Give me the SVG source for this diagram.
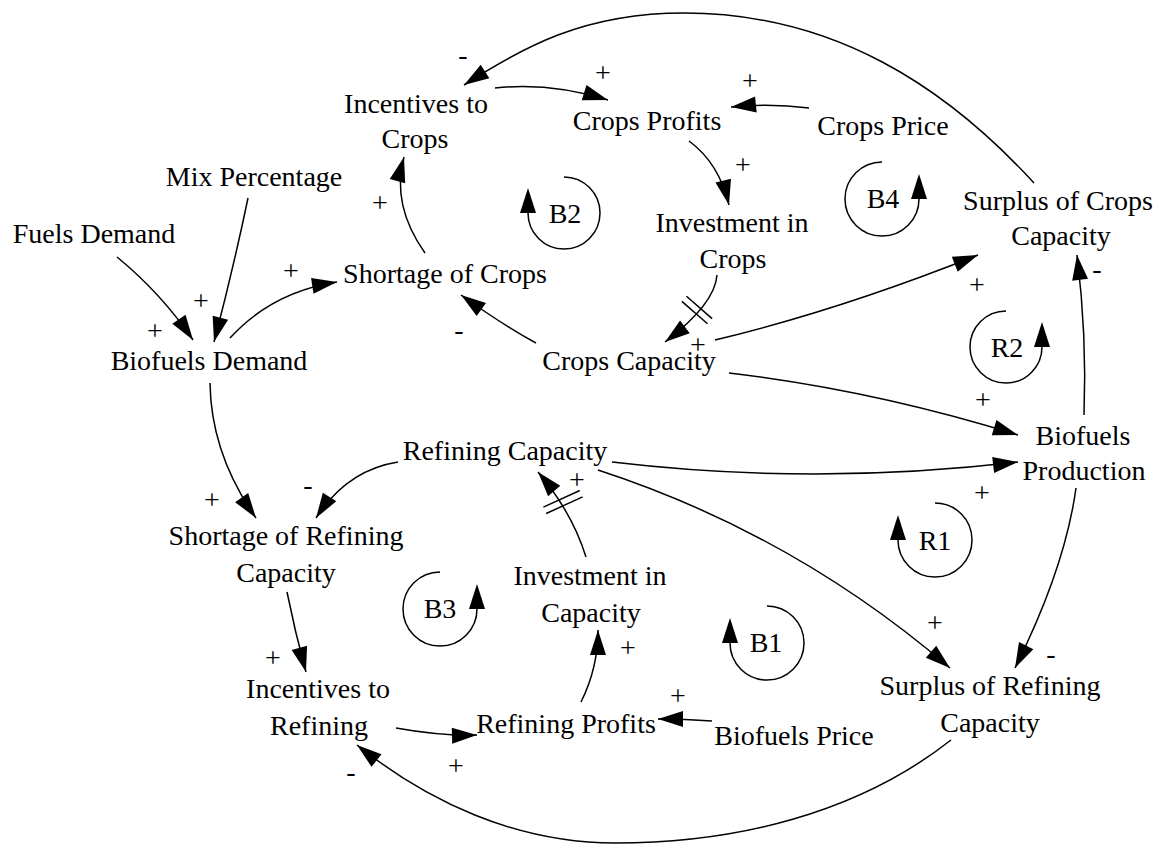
<svg xmlns="http://www.w3.org/2000/svg" width="1162" height="844" viewBox="0 0 1162 844">
<style>
text { font-family: "Liberation Serif", "Times New Roman", serif; font-size: 28px; fill: #000; text-anchor: middle; }
.c { fill: none; stroke: #000; stroke-width: 1.5; marker-end: url(#ah); }
.loop { fill: none; stroke: #000; stroke-width: 1.5; marker-end: url(#lh); }
.hash { stroke: #000; stroke-width: 1.5; }
</style>
<defs>
<marker id="ah" markerUnits="userSpaceOnUse" markerWidth="26" markerHeight="16" refX="25" refY="8" orient="auto" overflow="visible">
<path d="M0,0 L25,8 L0,16 z" fill="#000"/>
</marker>
<marker id="lh" markerUnits="userSpaceOnUse" markerWidth="26" markerHeight="16" refX="0" refY="8" orient="auto" overflow="visible">
<path d="M0,0 L25,8 L0,16 z" fill="#000"/>
</marker>
</defs>
<rect width="1162" height="844" fill="#fff"/>

<g id="connectors">
<path class="c" d="M117,257 Q161,293 193,340"/>
<path class="c" d="M248,198 Q233,270 214,342"/>
<path class="c" d="M230,338 Q272,292 337,282"/>
<path class="c" d="M425,253 Q391,205 404,157"/>
<path class="c" d="M536,343 Q503,325 461,295"/>
<path class="c" d="M1034,183 C946,87 834,13 684,13 C584,13 523,47 464,85"/>
<path class="c" d="M495,88 Q550,82 608,100"/>
<path class="c" d="M809,108 Q770,103 731,107"/>
<path class="c" d="M689,141 Q719,163 729,205"/>
<path class="c" d="M717,275 Q715,304 665,342"/>
<path class="c" d="M715,340 Q840,310 978,255"/>
<path class="c" d="M1084,415 Q1087,335 1077,255"/>
<path class="c" d="M729,373 Q873,390 1018,435"/>
<path class="c" d="M612,462 Q815,486 1018,462"/>
<path class="c" d="M598,470 Q794,534 950,668"/>
<path class="c" d="M1076,488 Q1065,568 1015,668"/>
<path class="c" d="M210,383 Q211,454 256,518"/>
<path class="c" d="M398,462 Q347,470 316,518"/>
<path class="c" d="M586,557 Q572,512 538,472"/>
<path class="c" d="M287,592 Q295,632 306,672"/>
<path class="c" d="M396,728 Q440,736 477,735"/>
<path class="c" d="M951,740 C857,814 735,843 615,843 C515,843 427,801 357,745"/>
<path class="c" d="M581,702 Q598,668 598,630"/>
<path class="c" d="M712,721 Q685,719 658,719"/>
<line class="hash" x1="707.5" y1="323.8" x2="681.9" y2="301.4"/>
<line class="hash" x1="712.1" y1="318.6" x2="686.5" y2="296.2"/>
<line class="hash" x1="579.8" y1="490.5" x2="543.4" y2="507.1"/>
<line class="hash" x1="582.6" y1="496.9" x2="546.2" y2="513.5"/>
</g>

<g id="polarities">
<text x="201" y="310">+</text>
<text x="155" y="340">+</text>
<text x="291" y="280">+</text>
<text x="380" y="212">+</text>
<text x="459" y="339">-</text>
<text x="463" y="64">-</text>
<text x="603" y="82">+</text>
<text x="750" y="90">+</text>
<text x="743" y="174">+</text>
<text x="698" y="354">+</text>
<text x="977" y="294">+</text>
<text x="1097" y="278">-</text>
<text x="983" y="409">+</text>
<text x="982" y="502">+</text>
<text x="935" y="632">+</text>
<text x="1051" y="663">-</text>
<text x="212" y="509">+</text>
<text x="308" y="494">-</text>
<text x="577" y="489">+</text>
<text x="273" y="667">+</text>
<text x="456" y="775">+</text>
<text x="351" y="781">-</text>
<text x="628" y="657">+</text>
<text x="678" y="705">+</text>
</g>

<g id="loops">
<g id="loop-B2"><path class="loop" d="M564,177 A36,36 0 1 1 528,213"/><text x="565" y="223">B2</text></g>
<g id="loop-B4"><path class="loop" d="M882,162 A37,37 0 1 0 919,199"/><text x="883" y="208">B4</text></g>
<g id="loop-R2"><path class="loop" d="M1006,311 A36,36 0 1 0 1042,347"/><text x="1007" y="357">R2</text></g>
<g id="loop-R1"><path class="loop" d="M935,503 A37,37 0 1 1 898,540"/><text x="935" y="550">R1</text></g>
<g id="loop-B1"><path class="loop" d="M767,606 A37,37 0 1 1 730,643"/><text x="766" y="652">B1</text></g>
<g id="loop-B3"><path class="loop" d="M440,572 A37,37 0 1 0 477,609"/><text x="440" y="618">B3</text></g>
</g>

<g id="fuels-demand"><text x="94" y="243">Fuels Demand</text></g>
<g id="mix-percentage"><text x="254" y="186">Mix Percentage</text></g>
<g id="biofuels-demand"><text x="209" y="370">Biofuels Demand</text></g>
<g id="shortage-of-crops"><text x="445" y="283">Shortage of Crops</text></g>
<g id="incentives-to-crops"><text x="416" y="113">Incentives to</text><text x="415" y="148">Crops</text></g>
<g id="crops-profits"><text x="647" y="130">Crops Profits</text></g>
<g id="crops-price"><text x="883" y="135">Crops Price</text></g>
<g id="investment-in-crops"><text x="732" y="232">Investment in</text><text x="733" y="268">Crops</text></g>
<g id="surplus-of-crops-capacity"><text x="1058" y="210">Surplus of Crops</text><text x="1061" y="245">Capacity</text></g>
<g id="crops-capacity"><text x="629" y="370">Crops Capacity</text></g>
<g id="biofuels-production"><text x="1083" y="445">Biofuels</text><text x="1084" y="480">Production</text></g>
<g id="refining-capacity"><text x="505" y="460">Refining Capacity</text></g>
<g id="shortage-of-refining-capacity"><text x="286" y="545">Shortage of Refining</text><text x="286" y="582">Capacity</text></g>
<g id="investment-in-capacity"><text x="590" y="585">Investment in</text><text x="591" y="622">Capacity</text></g>
<g id="incentives-to-refining"><text x="318" y="698">Incentives to</text><text x="319" y="735">Refining</text></g>
<g id="refining-profits"><text x="566" y="733">Refining Profits</text></g>
<g id="biofuels-price"><text x="794" y="745">Biofuels Price</text></g>
<g id="surplus-of-refining-capacity"><text x="990" y="695">Surplus of Refining</text><text x="990" y="732">Capacity</text></g>
</svg>
